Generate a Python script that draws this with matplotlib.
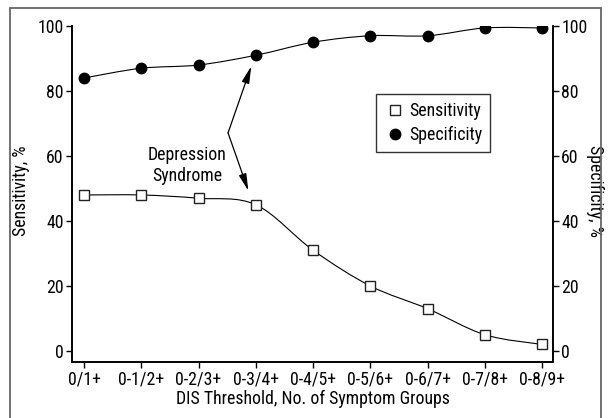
import numpy as np
import matplotlib.pyplot as plt
from matplotlib.path import Path
from matplotlib.patches import PathPatch, Rectangle
from matplotlib.lines import Line2D

plt.rcParams['font.family'] = ['Roboto Condensed', 'Liberation Sans Narrow',
                               'Roboto', 'DejaVu Sans']
plt.rcParams['font.size'] = 12.8

# data
thresholds = ['0/1+', '0-1/2+', '0-2/3+', '0-3/4+', '0-4/5+',
              '0-5/6+', '0-6/7+', '0-7/8+', '0-8/9+']
sensitivity = [48, 48, 47, 45, 31, 20, 13, 5, 2]
specificity = [84, 87, 88, 91, 95, 97, 97, 99.4, 99.4]


def smooth_path(xs, ys, t=0.5):
    # Catmull-Rom style bezier through the points
    xs = np.asarray(xs, float)
    ys = np.asarray(ys, float)
    n = len(xs)
    verts = [(xs[0], ys[0])]
    codes = [Path.MOVETO]
    for i in range(n - 1):
        i0 = max(i - 1, 0)
        i3 = min(i + 2, n - 1)
        c1 = (xs[i] + (xs[i + 1] - xs[i0]) * t / 3,
              ys[i] + (ys[i + 1] - ys[i0]) * t / 3)
        c2 = (xs[i + 1] - (xs[i3] - xs[i]) * t / 3,
              ys[i + 1] - (ys[i3] - ys[i]) * t / 3)
        verts += [c1, c2, (xs[i + 1], ys[i + 1])]
        codes += [Path.CURVE4] * 3
    return Path(verts, codes)


fig = plt.figure(figsize=(6.1, 4.18), dpi=100)
fig.patches.append(Rectangle((9.5 / 610, -0.05), 591 / 610, 1.05 - 8.5 / 418,
                             transform=fig.transFigure, fill=False,
                             edgecolor='#666666', linewidth=1.3))

ax = fig.add_axes([72 / 610, 56 / 418, 481 / 610, 336 / 418])
ax2 = ax.twinx()

x = np.arange(len(thresholds))
ax.add_patch(PathPatch(smooth_path(x, sensitivity), fill=False,
                       edgecolor='black', linewidth=0.8))
ax.plot(x, sensitivity, linestyle='none', marker='s', markersize=7.5,
        markerfacecolor='white', markeredgecolor='#222222',
        markeredgewidth=1.0, zorder=3)
ax2.add_patch(PathPatch(smooth_path(x, specificity), fill=False,
                        edgecolor='black', linewidth=0.8))
ax2.plot(x, specificity, linestyle='none', marker='o', markersize=7.5,
         color='black', zorder=3)

for a in (ax, ax2):
    a.set_xlim(-0.21, 8.19)
    a.set_ylim(-3.4, 100)
    a.set_yticks([0, 20, 40, 60, 80, 100])
    a.spines['top'].set_visible(False)
    a.tick_params(direction='out', length=4, width=1, pad=2)
    for s in a.spines.values():
        s.set_linewidth(1.2)
ax.spines['left'].set_bounds(-3.4, 100)
ax2.spines['right'].set_bounds(-3.4, 100)

ax.set_xticks(x)
ax.set_xticklabels(thresholds)
ax.tick_params(axis='x', pad=2)
ax.set_xlabel('DIS Threshold, No. of Symptom Groups', labelpad=1)
ax.set_ylabel('Sensitivity, %')
ax2.set_ylabel('Specificity, %', rotation=270, va='center')
ax.yaxis.set_label_coords(-0.087, 0.51)
ax2.yaxis.set_label_coords(1.087, 0.51)

# annotation with two arrows
ax.text(1.80, 57, 'Depression\nSyndrome', ha='center', va='center',
        linespacing=1.2)
arrow = dict(arrowstyle='-|>,head_length=0.8,head_width=0.18',
             color='black', linewidth=0.9, shrinkA=0, shrinkB=0)
ax.annotate('', xy=(2.92, 87.6), xytext=(2.515, 67.1), arrowprops=arrow)
ax.annotate('', xy=(2.87, 49.3), xytext=(2.515, 67.1), arrowprops=arrow)

handles = [Line2D([], [], linestyle='none', marker='s', markersize=7.5,
                  markerfacecolor='white', markeredgecolor='#222222'),
           Line2D([], [], linestyle='none', marker='o', markersize=7.5,
                  color='black')]
leg = ax2.legend(handles, ['Sensitivity', 'Specificity'],
                 loc='upper left', bbox_to_anchor=(376 / 610, 1 - 94 / 418),
                 bbox_transform=fig.transFigure, fancybox=False,
                 edgecolor='#333333', framealpha=1, fontsize=12.8,
                 handletextpad=0.2, handlelength=1.2, borderpad=0.45,
                 labelspacing=0.35, borderaxespad=0)
leg.get_frame().set_linewidth(1.0)

fig.savefig('out.png', dpi=100)
